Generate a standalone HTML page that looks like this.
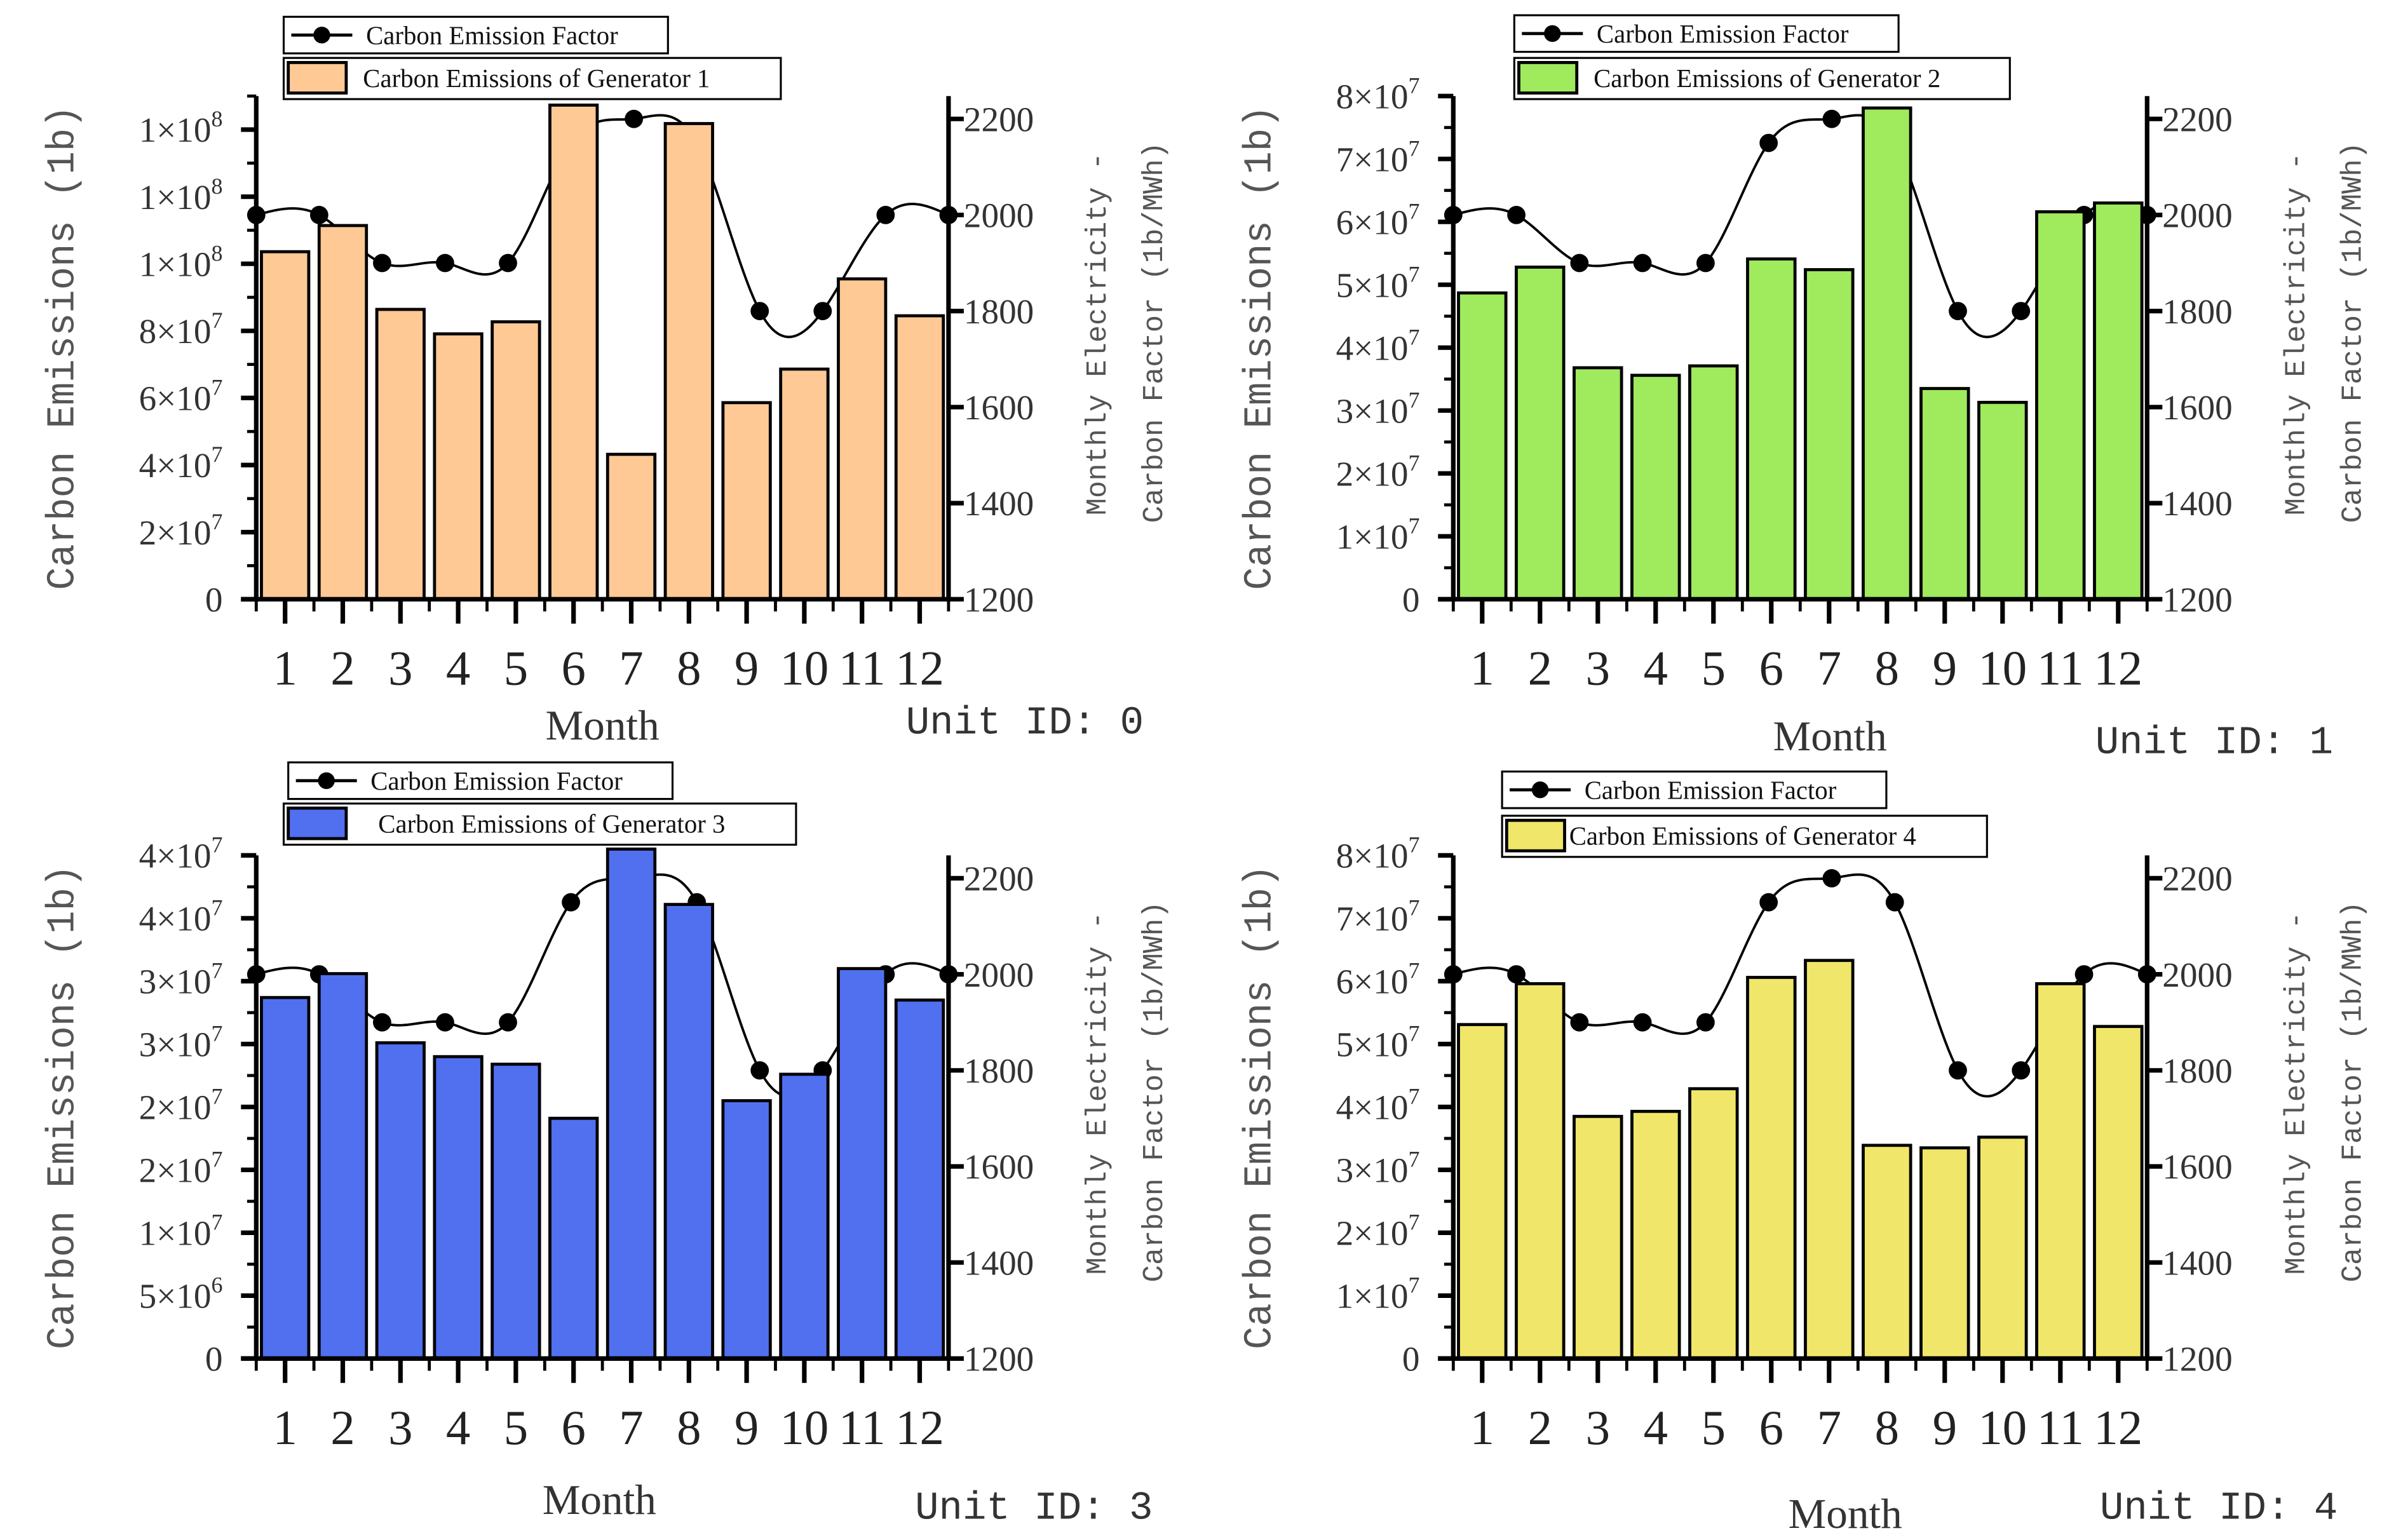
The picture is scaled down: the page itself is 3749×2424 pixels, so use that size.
<!DOCTYPE html>
<html><head><meta charset="utf-8"><style>
html,body{margin:0;padding:0;background:#fff}
svg{display:block}
</style></head><body>
<svg id="fig" xmlns="http://www.w3.org/2000/svg" width="3749" height="2424" viewBox="0 0 1562 1010" font-family="Liberation Serif, serif"></svg>
<script>
const months = ["1","2","3","4","5","6","7","8","9","10","11","12"];
const gen1Values = [1.036e8,1.114e8,0.864e8,0.791e8,0.827e8,1.473e8,0.432e8,1.418e8,0.586e8,0.686e8,0.955e8,0.845e8];
const gen2Values = [4.87e7,5.28e7,3.68e7,3.56e7,3.71e7,5.41e7,5.24e7,7.81e7,3.35e7,3.13e7,6.16e7,6.30e7];
const gen3Values = [2.87e7,3.06e7,2.51e7,2.40e7,2.34e7,1.91e7,4.05e7,3.61e7,2.05e7,2.26e7,3.10e7,2.85e7];
const gen4Values = [5.31e7,5.96e7,3.85e7,3.93e7,4.29e7,6.06e7,6.33e7,3.39e7,3.35e7,3.52e7,5.96e7,5.28e7];
const factor1 = [2000,2000,1900,1900,1900,2150,2200,2150,1800,1800,2000,2000];
const factor2 = [2000,2000,1900,1900,1900,2150,2200,2150,1800,1800,2000,2000];
const factor3 = [2000,2000,1900,1900,1900,2150,2200,2150,1800,1800,2000,2000];
const factor4 = [2000,2000,1900,1900,1900,2150,2200,2150,1800,1800,2000,2000];
const rightTicks = [1200,1400,1600,1800,2000,2200];
const leftTicks1 = [0,2e7,4e7,6e7,8e7,1e8,1.2e8,1.4e8];
const leftMant1 = ["0","2","4","6","8","1","1","1"];
const leftExp1 = ["","7","7","7","7","8","8","8"];
const leftTicks2 = [0,1e7,2e7,3e7,4e7,5e7,6e7,7e7,8e7];
const leftMant2 = ["0","1","2","3","4","5","6","7","8"];
const leftExp2 = ["","7","7","7","7","7","7","7","7"];
const leftTicks3 = [0,5e6,1e7,1.5e7,2e7,2.5e7,3e7,3.5e7,4e7];
const leftMant3 = ["0","5","1","2","2","3","3","4","4"];
const leftExp3 = ["","6","7","7","7","7","7","7","7"];

const NS="http://www.w3.org/2000/svg";
const svg=document.getElementById('fig');
function mk(tag,attrs,parent){const e=document.createElementNS(NS,tag);for(const k in attrs)e.setAttribute(k,attrs[k]);(parent||svg).appendChild(e);return e;}

function spline(xs,ys){
  const n=xs.length,h=[],a=[],l=[1],mu=[0],z=[0],c=new Array(n).fill(0),b=[],d=[];
  for(let i=0;i<n-1;i++)h.push(xs[i+1]-xs[i]);
  for(let i=1;i<n-1;i++)a[i]=3/h[i]*(ys[i+1]-ys[i])-3/h[i-1]*(ys[i]-ys[i-1]);
  for(let i=1;i<n-1;i++){l[i]=2*(xs[i+1]-xs[i-1])-h[i-1]*mu[i-1];mu[i]=h[i]/l[i];z[i]=(a[i]-h[i-1]*z[i-1])/l[i];}
  for(let j=n-2;j>=0;j--){c[j]=(j>0?z[j]:0)-mu[j]*c[j+1];b[j]=(ys[j+1]-ys[j])/h[j]-h[j]*(c[j+1]+2*c[j])/3;d[j]=(c[j+1]-c[j])/(3*h[j]);}
  let p="";
  for(let j=0;j<n-1;j++)for(let s=0;s<=20;s++){const t=h[j]*s/20;const y=ys[j]+b[j]*t+c[j]*t*t+d[j]*t*t*t;p+=(p?"L":"M")+(xs[j]+t).toFixed(2)+","+y.toFixed(2);}
  return p;
}

function panel(cfg){
  const g=mk('g',{});
  
  
  const L=cfg.left,R=cfg.right,B=cfg.bottom,H=330,T=B-H;
  const yL=v=>B-v/cfg.yMax*H;
  const yR=v=>B-(v-1200)*0.315;
  const band=(R-L)/12;
  const xBar=i=>L+band*(i+0.5);
  const xLine=i=>L+i*(R-L)/11;
  const xs=cfg.factor.map((v,i)=>xLine(i)),ys=cfg.factor.map(v=>yR(v));
  const ln=mk('path',{d:spline(xs,ys),fill:'none',stroke:'#000','stroke-width':1.6},g);
  
  
  cfg.factor.forEach((v,i)=>{const c=mk('circle',{cx:xLine(i),cy:yR(v),r:6,fill:'#000'},g);
    
    });
  cfg.values.forEach((v,i)=>{const bw=band*0.82;const y=yL(v);
    const r=mk('rect',{x:xBar(i)-bw/2,y:y,width:bw,height:B-y,fill:cfg.color,stroke:'#000','stroke-width':2},g);
    
    });
  mk('line',{x1:L,y1:T,x2:L,y2:B+1.5,stroke:'#000','stroke-width':3},g);
  mk('line',{x1:R,y1:T,x2:R,y2:B+1.5,stroke:'#000','stroke-width':3},g);
  mk('line',{x1:L-10,y1:B,x2:R,y2:B,stroke:'#000','stroke-width':3},g);
  for(let i=0;i<12;i++){mk('line',{x1:xBar(i),y1:B,x2:xBar(i),y2:B+16,stroke:'#000','stroke-width':3},g);
    const t=mk('text',{x:xBar(i),y:B+56,'font-size':32,'text-anchor':'middle',fill:'#222'},g);t.textContent=months[i];
    }
  for(let i=0;i<=12;i++)mk('line',{x1:L+band*i,y1:B,x2:L+band*i,y2:B+8,stroke:'#000','stroke-width':2},g);
  cfg.lt.forEach((v,i)=>{const y=yL(v);mk('line',{x1:L-10,y1:y,x2:L,y2:y,stroke:'#000','stroke-width':3},g);
    const t=mk('text',{x:L-22,y:y+8,'font-size':23,'text-anchor':'end',fill:'#333'},g);
    
    if(cfg.le[i]){t.textContent=cfg.lm[i]+'×10';const s=mk('tspan',{dy:-10,'font-size':15},t);s.textContent=cfg.le[i];}
    else t.textContent=cfg.lm[i];
    const step=cfg.lt[1]/2;if(v+step<=cfg.yMax){const ym=yL(v+step);mk('line',{x1:L-6,y1:ym,x2:L,y2:ym,stroke:'#000','stroke-width':2},g);}
  });
  rightTicks.forEach(v=>{const y=yR(v);mk('line',{x1:R,y1:y,x2:R+10,y2:y,stroke:'#000','stroke-width':3},g);
    const t=mk('text',{x:R+10,y:y+8,'font-size':23,fill:'#333'},g);t.textContent=v;
    });
  const ty=mk('text',{transform:`translate(${L-120},${B-165}) rotate(-90)`,'font-size':26,'text-anchor':'middle',fill:'#555','font-family':'Liberation Mono, monospace',textLength:318,lengthAdjust:'spacingAndGlyphs'},g);
  ty.textContent='Carbon Emissions (1b)';
  const t1=mk('text',{transform:`translate(${R+103},${B-174}) rotate(-90)`,'font-size':19,'text-anchor':'middle',fill:'#555','font-family':'Liberation Mono, monospace',textLength:238,lengthAdjust:'spacingAndGlyphs'},g);
  t1.textContent='Monthly Electricity -';
  const t2=mk('text',{transform:`translate(${R+140},${B-175}) rotate(-90)`,'font-size':19,'text-anchor':'middle',fill:'#555','font-family':'Liberation Mono, monospace',textLength:250,lengthAdjust:'spacingAndGlyphs'},g);
  t2.textContent='Carbon Factor (1b/MWh)';
  const mt=mk('text',{x:cfg.monthX,y:cfg.monthY,'font-size':28,'text-anchor':'middle',fill:'#333'},g);
  mt.textContent='Month';
  const ut=mk('text',{x:cfg.unitX,y:cfg.unitY,'font-size':26,'text-anchor':'middle',fill:'#333','font-family':'Liberation Mono, monospace'},g);
  ut.textContent='Unit ID: '+cfg.unit;
  const lg=cfg.lg;
  const b1=mk('rect',{x:lg[0],y:lg[1],width:252,height:24,fill:'#fff',stroke:'#000','stroke-width':1.3},g);
  
  mk('line',{x1:lg[0]+5,y1:lg[1]+12,x2:lg[0]+45,y2:lg[1]+12,stroke:'#000','stroke-width':2},g);
  mk('circle',{cx:lg[0]+25,cy:lg[1]+12,r:5.5,fill:'#000'},g);
  const lt1=mk('text',{x:lg[0]+54,y:lg[1]+18,'font-size':17,fill:'#111'},g);lt1.textContent='Carbon Emission Factor';
  const b2=mk('rect',{x:lg[2],y:lg[3],width:lg[4],height:27,fill:'#fff',stroke:'#000','stroke-width':1.3},g);
  
  mk('rect',{x:lg[2]+3,y:lg[3]+3,width:38,height:20,fill:cfg.color,stroke:'#000','stroke-width':2},g);
  const lt2=mk('text',{x:lg[2]+lg[5],y:lg[3]+19,'font-size':17,fill:'#111'},g);lt2.textContent='Carbon Emissions of Generator '+cfg.gen;
}
panel({name:'panel-unit-0',left:168,right:622,bottom:393,yMax:1.5e8,values:gen1Values,factor:factor1,color:'#FFC996',lt:leftTicks1,lm:leftMant1,le:leftExp1,monthX:395,monthY:485,unitX:672,unitY:481,unit:0,gen:1,lg:[186,11,186,38,326,52]});
panel({name:'panel-unit-1',left:953,right:1408,bottom:393,yMax:8e7,values:gen2Values,factor:factor2,color:'#A0EA5E',lt:leftTicks2,lm:leftMant2,le:leftExp2,monthX:1200,monthY:492,unitX:1452,unitY:494,unit:1,gen:2,lg:[993,10,993,38,325,52]});
panel({name:'panel-unit-3',left:168,right:622,bottom:891,yMax:4e7,values:gen3Values,factor:factor3,color:'#5070F0',lt:leftTicks3,lm:leftMant3,le:leftExp3,monthX:393,monthY:993,unitX:678,unitY:996,unit:3,gen:3,lg:[189,500,186,527,336,62]});
panel({name:'panel-unit-4',left:953,right:1408,bottom:891,yMax:8e7,values:gen4Values,factor:factor4,color:'#F0E66A',lt:leftTicks2,lm:leftMant2,le:leftExp2,monthX:1210,monthY:1002,unitX:1455,unitY:996,unit:4,gen:4,lg:[985,506,985,535,318,44]});
</script>
</body></html>
